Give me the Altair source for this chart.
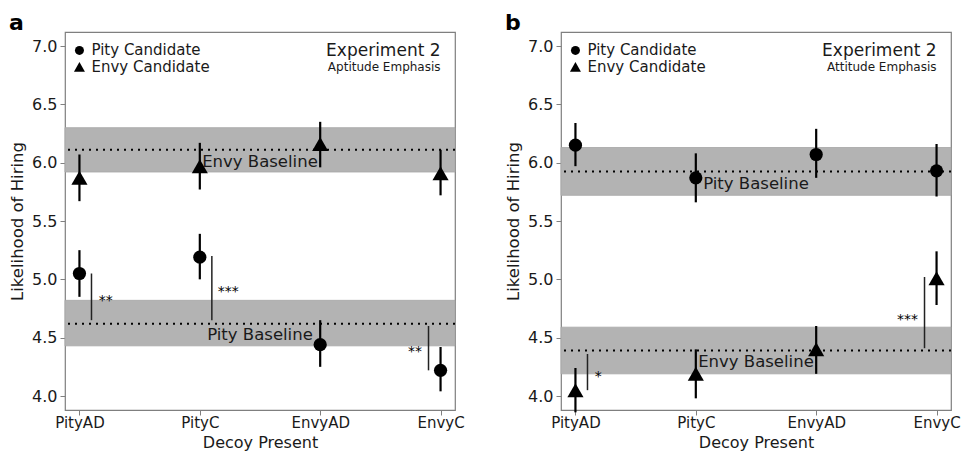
import json
import altair as alt
import pandas as pd

# ---------------- data ----------------
categories = ["PityAD", "PityC", "EnvyAD", "EnvyC"]
positions = [1, 2, 3, 4]
y_ticks = [4.0, 4.5, 5.0, 5.5, 6.0, 6.5, 7.0]

# Panel a : Aptitude Emphasis
a_pity_mean = [5.05, 5.19, 4.44, 4.22]
a_pity_lo = [4.85, 5.00, 4.25, 4.04]
a_pity_hi = [5.25, 5.39, 4.65, 4.42]
a_envy_mean = [5.87, 5.97, 6.16, 5.91]
a_envy_lo = [5.67, 5.77, 5.96, 5.72]
a_envy_hi = [6.07, 6.17, 6.35, 6.11]
a_base_names = ["Envy Baseline", "Pity Baseline"]
a_base_mean = [6.11, 4.62]
a_base_lo = [5.92, 4.43]
a_base_hi = [6.30, 4.82]
a_base_label_y = [6.01, 4.52]
a_sig_x = [1.1, 2.1, 3.9]
a_sig_from = [5.05, 5.20, 4.60]
a_sig_to = [4.65, 4.65, 4.22]
a_sig_text = ["**", "***", "**"]
a_sig_text_x = [1.16, 2.15, 3.845]
a_sig_text_y = [4.85, 4.925, 4.415]
a_sig_align = ["left", "left", "right"]

# Panel b : Attitude Emphasis
b_pity_mean = [6.15, 5.87, 6.07, 5.93]
b_pity_lo = [5.97, 5.66, 5.87, 5.71]
b_pity_hi = [6.34, 6.08, 6.29, 6.16]
b_envy_mean = [4.05, 4.19, 4.40, 5.01]
b_envy_lo = [3.86, 3.98, 4.19, 4.78]
b_envy_hi = [4.24, 4.40, 4.60, 5.24]
b_base_names = ["Pity Baseline", "Envy Baseline"]
b_base_mean = [5.925, 4.39]
b_base_lo = [5.72, 4.19]
b_base_hi = [6.13, 4.59]
b_base_label_y = [5.82, 4.29]
b_sig_x = [1.1, 3.9]
b_sig_from = [4.05, 5.02]
b_sig_to = [4.36, 4.41]
b_sig_text = ["*", "***"]
b_sig_text_x = [1.16, 3.845]
b_sig_text_y = [4.20, 4.684]
b_sig_align = ["left", "right"]

legend_labels = ["Pity Candidate", "Envy Candidate"]
legend_x = 1.0
legend_text_x = 1.1
legend_y = [6.962, 6.821]
exp_title = "Experiment 2"
exp_x = 4.0
exp_y = [6.955, 6.824]

FONT = "DejaVu Sans"
TXT = "#1a1a1a"

xs = alt.Scale(domain=[0.88, 4.12], nice=False, zero=False)
ys = alt.Scale(domain=[3.88, 7.12], nice=False, zero=False)

label_expr = json.dumps(categories) + "[datum.value - 1]"

x_axis = alt.Axis(values=positions, labelExpr=label_expr, title="Decoy Present",
                  grid=False, domain=False, tickColor="#808080", tickSize=5,
                  labelPadding=0, labelFlush=False, labelFontSize=15,
                  titleFontSize=16, titlePadding=4, titleFontWeight="normal",
                  labelColor=TXT, titleColor=TXT, labelFont=FONT, titleFont=FONT,
                  labelOverlap=False)
y_axis = alt.Axis(values=y_ticks, format=".1f", title="Likelihood of Hiring",
                  grid=False, domain=False, tickColor="#808080", tickSize=5,
                  labelPadding=3, labelFontSize=16, titleFontSize=16.5,
                  titlePadding=6, titleFontWeight="normal", labelColor=TXT,
                  titleColor=TXT, labelFont=FONT, titleFont=FONT,
                  minExtent=34, maxExtent=34, labelOverlap=False)


def X(f):
    return alt.X(f"{f}:Q", scale=xs, axis=x_axis)


def Y(f):
    return alt.Y(f"{f}:Q", scale=ys, axis=y_axis)


def panel(letter, subtitle, pity_mean, pity_lo, pity_hi, envy_mean, envy_lo, envy_hi,
          base_names, base_mean, base_lo, base_hi, base_label_y,
          sig_x, sig_from, sig_to, sig_text, sig_text_x, sig_text_y, sig_align):
    bands = pd.DataFrame({"name": base_names, "mean": base_mean, "lo": base_lo,
                          "hi": base_hi, "ly": base_label_y,
                          "lx": [2.5] * len(base_names)})
    pity = pd.DataFrame({"x": positions, "m": pity_mean, "lo": pity_lo, "hi": pity_hi})
    envy = pd.DataFrame({"x": positions, "m": envy_mean, "lo": envy_lo, "hi": envy_hi})
    sig = pd.DataFrame({"x": sig_x, "y1": sig_from, "y2": sig_to})
    sigt = pd.DataFrame({"x": sig_text_x, "y": sig_text_y, "t": sig_text, "al": sig_align})
    leg = pd.DataFrame({"x": [legend_x] * 2, "tx": [legend_text_x] * 2,
                        "y": legend_y, "t": legend_labels})
    exp = pd.DataFrame({"x": [exp_x], "y": [exp_y[0]], "t": [exp_title]})
    sub = pd.DataFrame({"x": [exp_x], "y": [exp_y[1]], "t": [subtitle]})

    band = alt.Chart(bands).mark_rect(color="#b3b3b3", stroke="#a6a6a6",
                                      strokeWidth=0.8).encode(y=Y("lo"), y2="hi")
    dotted = alt.Chart(bands).mark_rule(color="black", strokeDash=[2, 5],
                                        strokeWidth=2).encode(y=Y("mean"))
    blab = alt.Chart(bands).mark_text(font=FONT, fontSize=16.5, color=TXT,
                                      align="center", baseline="middle").encode(
        x=X("lx"), y=Y("ly"), text="name:N")

    def errs(df):
        return alt.Chart(df).mark_rule(color="black", strokeWidth=2.2).encode(
            x=X("x"), y=Y("lo"), y2="hi")

    circ = alt.Chart(pity).mark_point(shape="circle", filled=True, opacity=1,
                                      color="black", size=175).encode(x=X("x"), y=Y("m"))
    tri = alt.Chart(envy).mark_point(shape="triangle-up", filled=True, opacity=1,
                                     color="black", size=260).encode(x=X("x"), y=Y("m"))
    sigl = alt.Chart(sig).mark_rule(color="#222222", strokeWidth=1.5).encode(
        x=X("x"), y=Y("y1"), y2="y2")
    sig_left = alt.Chart(sigt).transform_filter("datum.al == 'left'").mark_text(
        font=FONT, fontSize=14, color="black", align="left", baseline="alphabetic", dy=8
    ).encode(x=X("x"), y=Y("y"), text="t:N")
    sig_right = alt.Chart(sigt).transform_filter("datum.al == 'right'").mark_text(
        font=FONT, fontSize=14, color="black", align="right", baseline="alphabetic", dy=8
    ).encode(x=X("x"), y=Y("y"), text="t:N")

    leg_c = alt.Chart(leg).transform_filter(f"datum.t == '{legend_labels[0]}'").mark_point(
        shape="circle", filled=True, opacity=1, color="black", size=81).encode(
        x=X("x"), y=Y("y"))
    leg_t = alt.Chart(leg).transform_filter(f"datum.t == '{legend_labels[1]}'").mark_point(
        shape="triangle-up", filled=True, opacity=1, color="black", size=121).encode(
        x=X("x"), y=Y("y"))
    leg_txt = alt.Chart(leg).mark_text(font=FONT, fontSize=15, color=TXT,
                                       align="left", baseline="middle").encode(
        x=X("tx"), y=Y("y"), text="t:N")
    exp_txt = alt.Chart(exp).mark_text(font=FONT, fontSize=17, color=TXT,
                                       align="right", baseline="middle").encode(
        x=X("x"), y=Y("y"), text="t:N")
    sub_txt = alt.Chart(sub).mark_text(font=FONT, fontSize=12, color=TXT,
                                       align="right", baseline="middle").encode(
        x=X("x"), y=Y("y"), text="t:N")

    return alt.layer(band, dotted, blab, errs(pity), errs(envy), circ, tri, sigl,
                     sig_left, sig_right, leg_c, leg_t, leg_txt, exp_txt, sub_txt
                     ).properties(
        width=390, height=378,
        title=alt.TitleParams(text=letter, anchor="start", frame="bounds",
                              fontSize=22, fontWeight="bold", font=FONT,
                              color="black", offset=-3))


pa = panel("a", "Aptitude Emphasis", a_pity_mean, a_pity_lo, a_pity_hi,
           a_envy_mean, a_envy_lo, a_envy_hi, a_base_names, a_base_mean,
           a_base_lo, a_base_hi, a_base_label_y, a_sig_x, a_sig_from, a_sig_to,
           a_sig_text, a_sig_text_x, a_sig_text_y, a_sig_align)
pb = panel("b", "Attitude Emphasis", b_pity_mean, b_pity_lo, b_pity_hi,
           b_envy_mean, b_envy_lo, b_envy_hi, b_base_names, b_base_mean,
           b_base_lo, b_base_hi, b_base_label_y, b_sig_x, b_sig_from, b_sig_to,
           b_sig_text, b_sig_text_x, b_sig_text_y, b_sig_align)

chart = alt.hconcat(pa, pb, spacing=106, bounds="flush").properties(
    padding={"left": 0, "top": 3, "right": 0, "bottom": 0}
).configure_view(stroke="#7f7f7f", strokeWidth=1.2)

chart.save("out.html", embed_options={"renderer": "svg", "actions": False})
